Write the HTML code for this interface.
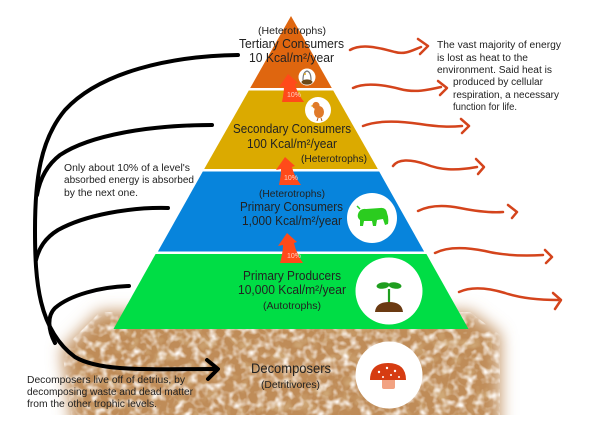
<!DOCTYPE html>
<html><head><meta charset="utf-8"><style>
html,body{margin:0;padding:0;background:#fff;width:606px;height:430px;overflow:hidden}
svg{display:block}
text{font-family:"Liberation Sans","DejaVu Sans",sans-serif;fill:#222}
</style></head><body>
<svg width="606" height="430" viewBox="0 0 606 430" xmlns="http://www.w3.org/2000/svg">
<defs>
<filter id="blur" x="-10%" y="-20%" width="120%" height="140%"><feGaussianBlur stdDeviation="8"/></filter>
<filter id="speck" x="0" y="0" width="100%" height="100%">
 <feTurbulence type="fractalNoise" baseFrequency="0.12" numOctaves="2" seed="5" result="n"/>
 <feColorMatrix in="n" type="matrix" values="0 0 0 0 1  0 0 0 0 0.96  0 0 0 0 0.92  2.4 0 0 0 -1.05"/>
 <feComposite in2="SourceGraphic" operator="in"/>
</filter>
<filter id="speck2" x="0" y="0" width="100%" height="100%">
 <feTurbulence type="fractalNoise" baseFrequency="0.08" numOctaves="2" seed="11" result="n"/>
 <feColorMatrix in="n" type="matrix" values="0 0 0 0 0.66  0 0 0 0 0.44  0 0 0 0 0.22  3 0 0 0 -1.5"/>
 <feComposite in2="SourceGraphic" operator="in"/>
</filter>
<clipPath id="cb"><rect x="0" y="290" width="606" height="125"/></clipPath>
</defs>

<!-- brown decomposer ground -->
<g clip-path="url(#cb)">
 <path d="M100,312 L470,312 L500,335 L500,440 L75,440 L62,350 Z" fill="#bf8c58" filter="url(#blur)"/>
 <path d="M105,318 L465,318 L492,338 L492,440 L82,440 L72,352 Z" fill="#000" filter="url(#speck2)" opacity="0.8"/>
 <path d="M100,312 L470,312 L500,335 L500,440 L75,440 L62,350 Z" fill="#000" filter="url(#speck)"/>
</g>

<!-- pyramid -->
<polygon points="291,16 250.2,88 331.8,88" fill="#df660f"/>
<polygon points="248.8,90.5 333.2,90.5 377.8,169 204.2,169" fill="#dbaa00"/>
<polygon points="202.8,171.5 379.2,171.5 424.1,251.5 157.9,251.5" fill="#0784dc"/>
<polygon points="155.6,254 426.4,254 468.5,329 113.5,329" fill="#00dd45"/>

<!-- circles -->
<circle cx="307" cy="77" r="8.5" fill="#fff"/>
<circle cx="318" cy="110" r="13" fill="#fff"/>
<circle cx="372" cy="218" r="25" fill="#fff"/>
<circle cx="389" cy="291" r="33.5" fill="#fff"/>
<circle cx="389" cy="375" r="33.5" fill="#fff"/>

<!-- icons -->
<path d="M303,80 Q303,72 307,71 Q311,72 311,80" fill="none" stroke="#777" stroke-width="1.2"/>
<circle cx="305" cy="74" r="1" fill="#e8b020"/>
<ellipse cx="307" cy="82" rx="5.5" ry="2.6" fill="#6b4a1a"/>

<ellipse cx="319" cy="112" rx="5" ry="6" fill="#e07a2a"/>
<circle cx="316" cy="105.5" r="3.6" fill="#e07a2a"/>
<path d="M312.5,105 L310.5,106 L312.8,107" fill="#e8b020"/>
<path d="M318,118 L317,121 M321,118 L322,121" stroke="#b05a15" stroke-width="1"/>

<path d="M358,214 Q360,208 366,209 L380,208 Q386,207 387,213 Q389,218 388,224 L385,225 L383,219 L377,220 L376,226 L373,226 L372,221 L364,221 L363,226 L360,226 L360,220 Q357,218 358,214 Z" fill="#2bcc1f"/>
<path d="M360,209 L357,206" stroke="#2bcc1f" stroke-width="1.5"/>

<path d="M389,303 L389,289" stroke="#1f9e1f" stroke-width="2.2"/>
<ellipse cx="383" cy="285.5" rx="6.5" ry="3.2" fill="#1f9e1f" transform="rotate(-8 383 285.5)"/>
<ellipse cx="395" cy="285.5" rx="6.5" ry="3.2" fill="#1f9e1f" transform="rotate(8 395 285.5)"/>
<path d="M375,312 Q376,302 389,302 Q402,302 403,312 Z" fill="#6b3a12"/>

<rect x="382" y="377" width="13" height="12" rx="2" fill="#f2a282"/>
<path d="M370,380 Q370,363 388,363 Q406,363 406,380 Z" fill="#d63c12"/>
<circle cx="379" cy="372" r="1.2" fill="#fff"/><circle cx="387" cy="368" r="1.2" fill="#fff"/>
<circle cx="395" cy="371" r="1.2" fill="#fff"/><circle cx="383" cy="377" r="1" fill="#fff"/>
<circle cx="399" cy="377" r="1" fill="#fff"/><circle cx="391" cy="375" r="1" fill="#fff"/>

<!-- 10% arrows -->
<g fill="#ff4a1a">
 <path d="M288,74 L298,83 L295,84 Q297,93 304,102 L282,102 Q284,92 284,86 L279,87 Z"/>
 <path d="M285,157 L295,166 L292,167 Q294,176 301,185 L279,185 Q281,175 281,169 L276,170 Z"/>
 <path d="M287,233 L297,242 L294,243 Q296,253 303,263 L280,263 Q283,252 283,245 L278,246 Z"/>
</g>
<g font-size="7">
 <text x="287" y="97" style="fill:#ffd0c0">10%</text>
 <text x="284" y="180" style="fill:#ffd0c0">10%</text>
 <text x="287" y="258" style="fill:#ffd0c0">10%</text>
</g>

<!-- pyramid labels -->
<text x="258" y="34" font-size="10" textLength="68" lengthAdjust="spacingAndGlyphs">(Heterotrophs)</text>
<text x="239" y="48" font-size="13" textLength="105" lengthAdjust="spacingAndGlyphs">Tertiary Consumers</text>
<text x="249" y="62" font-size="13" textLength="85" lengthAdjust="spacingAndGlyphs">10 Kcal/m²/year</text>

<text x="233" y="133" font-size="13" textLength="118" lengthAdjust="spacingAndGlyphs">Secondary Consumers</text>
<text x="247" y="148" font-size="13" textLength="90" lengthAdjust="spacingAndGlyphs">100 Kcal/m²/year</text>
<text x="301" y="162" font-size="10" textLength="66" lengthAdjust="spacingAndGlyphs">(Heterotrophs)</text>

<text x="259" y="197" font-size="10" textLength="66" lengthAdjust="spacingAndGlyphs">(Heterotrophs)</text>
<text x="240" y="211" font-size="12.5" textLength="103" lengthAdjust="spacingAndGlyphs">Primary Consumers</text>
<text x="242" y="225" font-size="12.5" textLength="100" lengthAdjust="spacingAndGlyphs">1,000 Kcal/m²/year</text>

<text x="243" y="280" font-size="12.5" textLength="98" lengthAdjust="spacingAndGlyphs">Primary Producers</text>
<text x="238" y="294" font-size="12.5" textLength="108" lengthAdjust="spacingAndGlyphs">10,000 Kcal/m²/year</text>
<text x="263" y="309" font-size="10" textLength="58" lengthAdjust="spacingAndGlyphs">(Autotrophs)</text>

<text x="251" y="373" font-size="14" textLength="80" lengthAdjust="spacingAndGlyphs">Decomposers</text>
<text x="261" y="388" font-size="10" textLength="59" lengthAdjust="spacingAndGlyphs">(Detritivores)</text>

<!-- side notes -->
<g font-size="10">
 <text x="64" y="171" textLength="126" lengthAdjust="spacingAndGlyphs">Only about 10% of a level's</text>
 <text x="64" y="183" textLength="130" lengthAdjust="spacingAndGlyphs">absorbed energy is absorbed</text>
 <text x="64" y="196" textLength="74" lengthAdjust="spacingAndGlyphs">by the next one.</text>

 <text x="27" y="383" textLength="158" lengthAdjust="spacingAndGlyphs">Decomposers live off of detrius, by</text>
 <text x="27" y="395" textLength="166" lengthAdjust="spacingAndGlyphs">decomposing waste and dead matter</text>
 <text x="27" y="407" textLength="130" lengthAdjust="spacingAndGlyphs">from the other trophic levels.</text>

 <text x="437" y="48" textLength="124" lengthAdjust="spacingAndGlyphs">The vast majority of energy</text>
 <text x="437" y="61" textLength="91" lengthAdjust="spacingAndGlyphs">is lost as heat to the</text>
 <text x="437" y="73" textLength="115" lengthAdjust="spacingAndGlyphs">environment. Said heat is</text>
 <text x="453" y="85" textLength="90" lengthAdjust="spacingAndGlyphs">produced by cellular</text>
 <text x="453" y="98" textLength="106" lengthAdjust="spacingAndGlyphs">respiration, a necessary</text>
 <text x="453" y="110" textLength="64" lengthAdjust="spacingAndGlyphs">function for life.</text>
</g>

<!-- black curves -->
<g fill="none" stroke="#000" stroke-width="4" stroke-linecap="round" stroke-linejoin="round">
 <path d="M238,55 C170,56 100,72 65,110 C40,140 35,180 35,230 C35,280 38,330 75,357 C100,372 150,369 213,369"/>
 <path d="M212,125 C150,125 90,135 60,155 C47,165 40,178 37,195"/>
 <path d="M168,208 C130,207 85,215 58,230 C45,238 39,248 36,260"/>
 <path d="M129,286 C100,287 70,295 55,308 C47,316 48,330 55,343"/>
 <path d="M207,360 L218,369 L208,379"/>
</g>

<!-- red heat arrows -->
<g fill="none" stroke="#d4441c" stroke-width="2.5" stroke-linecap="round" stroke-linejoin="round">
 <path d="M350,50 C362,43 380,48 395,52 C405,55 413,50 421,47"/><path d="M418,39 L428,46 L420,54"/>
 <path d="M353,88 C365,82 385,85 400,89 C415,93 428,90 441,87"/><path d="M438,81 L447,88 L440,95"/>
 <path d="M363,126 C378,120 400,121 420,124 C440,127 450,127 462,126"/><path d="M461,119 L469,126 L462,133"/>
 <path d="M393,166 C398,159 410,159 425,164 C440,170 455,171 477,167"/><path d="M476,159 L484,167 L478,174"/>
 <path d="M418,211 C430,205 445,205 460,208 C475,211 490,213 503,212"/><path d="M508,205 L517,212 L512,218"/>
 <path d="M435,253 C447,247 465,247 485,251 C505,256 525,256 543,255"/><path d="M545,250 L552,257 L546,263"/>
 <path d="M459,292 C470,287 485,287 505,293 C520,298 540,300 558,300"/><path d="M553,293 L561,300 L555,309"/>
</g>
</svg>
</body></html>
